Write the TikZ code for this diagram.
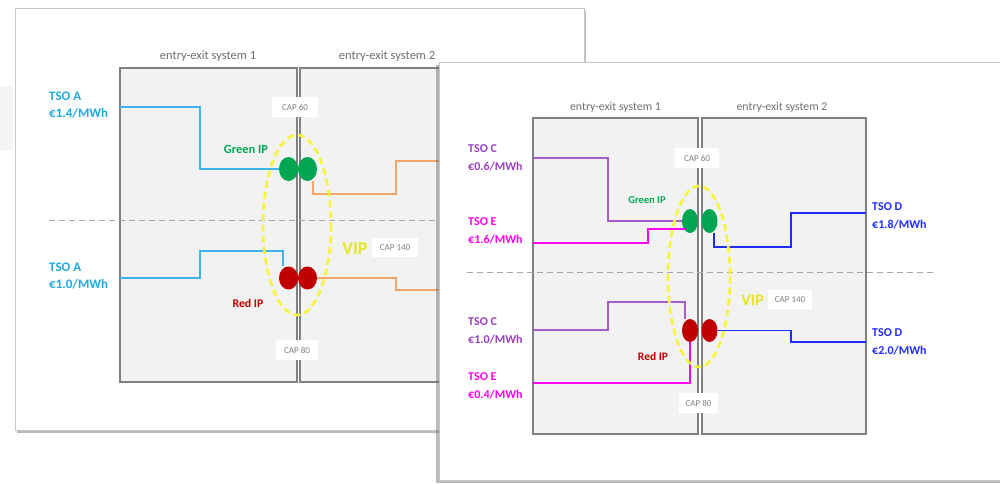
\documentclass[tikz,border=0pt]{standalone}
\usepackage{fontspec}
\setmainfont{Carlito}
\usetikzlibrary{shapes.geometric,shadows}
\definecolor{tsoA}{HTML}{1FA9E1}
\definecolor{lineA}{HTML}{3DB5E6}
\definecolor{tsoC}{HTML}{9B3FC4}
\definecolor{lineC}{HTML}{A65CC9}
\definecolor{tsoE}{HTML}{FF00F0}
\definecolor{tsoD}{HTML}{1F2BFF}
\definecolor{orng}{HTML}{F4A66A}
\definecolor{ipgreen}{HTML}{00A651}
\definecolor{ipred}{HTML}{C00000}
\definecolor{vipy}{HTML}{F5F53A}
\definecolor{viptxt}{HTML}{E6E620}
\definecolor{boxfill}{HTML}{F2F2F2}
\definecolor{boxline}{HTML}{808080}
\definecolor{txtgray}{HTML}{6F6F6F}
\definecolor{capgray}{HTML}{7F7F7F}
\begin{document}
\begin{tikzpicture}[x=1pt,y=-1pt,
  panel/.style={draw=black!22,line width=1pt,fill=white},
  sysbox/.style={draw=boxline,line width=1.6pt,fill=boxfill},
  sysname/.style={text=txtgray,inner sep=0pt,font=\fontsize{12.5}{15}\selectfont},
  sysnameR/.style={text=txtgray,inner sep=0pt,font=\fontsize{11.8}{14}\selectfont},
  tsoL/.style={inner sep=0pt,anchor=north west,align=left,font=\bfseries\fontsize{13}{17}\selectfont},
  tsoR/.style={inner sep=0pt,anchor=north west,align=left,font=\bfseries\fontsize{12}{18}\selectfont},
  flow/.style={line width=1.5pt},
  ipdot/.style={ellipse,inner sep=0pt,draw=none},
  capbox/.style={fill=white,draw=none,inner sep=0pt,text=capgray,font=\fontsize{9}{10}\selectfont},
  divider/.style={draw=black!35,line width=1pt,dash pattern=on 6pt off 4pt},
  vipring/.style={draw=vipy,line width=2.6pt,dash pattern=on 7pt off 4pt},
  iplabel/.style={inner sep=0pt,font=\bfseries\fontsize{12.4}{14}\selectfont},
  viplabel/.style={inner sep=0pt,text=viptxt,font=\bfseries\fontsize{18}{20}\selectfont}]
\useasboundingbox (0,0) rectangle (1000,483);
\fill[white] (0,0) rectangle (1000,483);
% faint mark at far left
\fill[black!4] (0,86) rectangle (13,150);

% ================= LEFT PANEL =================
\draw[panel,drop shadow={shadow xshift=2pt,shadow yshift=-3pt,opacity=0.45,fill=black!60}] (15,8) rectangle (584,430);
\node[sysname] (sL1) at (208,56) {entry-exit system 1};
\node[sysname] (sL2) at (387,56) {entry-exit system 2};
\draw[sysbox] (120,68) rectangle (297,382);
\draw[sysbox] (300,68) rectangle (480,382);
\draw[divider] (49,220) -- (440,220);

\node[ipdot,fill=ipgreen,minimum width=19pt,minimum height=24pt] (gL1) at (288.5,169) {};
\node[ipdot,fill=ipgreen,minimum width=19pt,minimum height=24pt] (gL2) at (307.5,169) {};
\node[ipdot,fill=ipred,minimum width=19pt,minimum height=23pt] (rL1) at (288.5,278) {};
\node[ipdot,fill=ipred,minimum width=19pt,minimum height=23pt] (rL2) at (307.5,278) {};

\coordinate (aL1) at (120,107);
\coordinate (aL2) at (120,278);
\coordinate (oL1) at (440,161);
\coordinate (oL2) at (440,290);
\draw[flow,lineA] (aL1) -| (200,169) -- (gL1.west);
\draw[flow,lineA] (aL2) -| (200,251) -| (rL1.north -| 283,0);
\draw[flow,orng] (gL2.south -| 313,0) |- (396,194) |- (oL1);
\draw[flow,orng] (rL2.east) -| (396,290) -- (oL2);

\draw[vipring] (297,225) ellipse [x radius=34, y radius=90];

\node[capbox,minimum width=46pt,minimum height=20pt] (cL60) at (295,107) {CAP 60};
\node[capbox,minimum width=46pt,minimum height=19pt] (cL140) at (395,247.5) {CAP 140};
\node[capbox,minimum width=42pt,minimum height=20pt] (cL80) at (297,350) {CAP 80};

\node[tsoL,text=tsoA] (tA1) at (49,92) {TSO A\\€1.4/MWh};
\node[tsoL,text=tsoA] (tA2) at (49,263) {TSO A\\€1.0/MWh};
\node[iplabel,text=ipgreen] (gLl) at (246,149) {Green IP};
\node[iplabel,text=ipred,font=\bfseries\fontsize{11.8}{14}\selectfont] (rLl) at (248,303) {Red IP};
\node[viplabel] (vL) at (355,249) {VIP};

% ================= RIGHT PANEL =================
\draw[panel,drop shadow={shadow xshift=-3pt,shadow yshift=-3pt,opacity=0.45,fill=black!60}] (439,62) rectangle (1010,480);
\node[sysnameR] (sR1) at (615.5,107) {entry-exit system 1};
\node[sysnameR] (sR2) at (782,107) {entry-exit system 2};
\draw[sysbox] (533,118) rectangle (698,434);
\draw[sysbox] (702,118) rectangle (866,434);
\draw[divider] (467,272) -- (937,272);

\node[ipdot,fill=ipgreen,minimum width=16pt,minimum height=24pt] (gR1) at (690,221) {};
\node[ipdot,fill=ipgreen,minimum width=16pt,minimum height=24pt] (gR2) at (709.5,221) {};
\node[ipdot,fill=ipred,minimum width=16pt,minimum height=23pt] (rR1) at (690,330.5) {};
\node[ipdot,fill=ipred,minimum width=16pt,minimum height=23pt] (rR2) at (709.5,330.5) {};

\coordinate (cR1) at (533,158);
\coordinate (eR1) at (533,243);
\coordinate (cR2) at (533,330);
\coordinate (eR2) at (533,383);
\coordinate (dR1) at (866,213);
\coordinate (dR2) at (866,342);
\draw[flow,lineC] (cR1) -| (608,221) -- (gR1.west);
\draw[flow,tsoE] (eR1) -| (648,229) -- (686,229);
\draw[flow,lineC] (cR2) -| (608,302) -| (rR1.north -| 685,0);
\draw[flow,tsoE] (eR2) -| (rR1.south);
\draw[flow,tsoD] (gR2.south -| 714,0) |- (791,247) |- (dR1);
\draw[flow,tsoD] (rR2.east) -| (791,342) -- (dR2);

\draw[vipring] (699,276.5) ellipse [x radius=31, y radius=90.5];

\node[capbox,minimum width=44pt,minimum height=20pt] (cR60) at (697,158) {CAP 60};
\node[capbox,minimum width=44pt,minimum height=19pt] (cR140) at (790,299.5) {CAP 140};
\node[capbox,minimum width=39pt,minimum height=20pt] (cR80) at (698.5,403) {CAP 80};

\node[tsoR,text=tsoC] (tC1) at (468,144) {TSO C\\€0.6/MWh};
\node[tsoR,text=tsoE] (tE1) at (468,217) {TSO E\\€1.6/MWh};
\node[tsoR,text=tsoC] (tC2) at (468,317) {TSO C\\€1.0/MWh};
\node[tsoR,text=tsoE] (tE2) at (468,372) {TSO E\\€0.4/MWh};
\node[tsoR,text=tsoD] (tD1) at (872,202) {TSO D\\€1.8/MWh};
\node[tsoR,text=tsoD] (tD2) at (872,328) {TSO D\\€2.0/MWh};
\node[iplabel,text=ipgreen,font=\bfseries\fontsize{10.5}{12}\selectfont] (gRl) at (647,200) {Green IP};
\node[iplabel,text=ipred,font=\bfseries\fontsize{11.5}{13}\selectfont] (rRl) at (653,356) {Red IP};
\node[viplabel,font=\bfseries\fontsize{16}{18}\selectfont] (vR) at (752.5,300) {VIP};
\end{tikzpicture}
\end{document}
